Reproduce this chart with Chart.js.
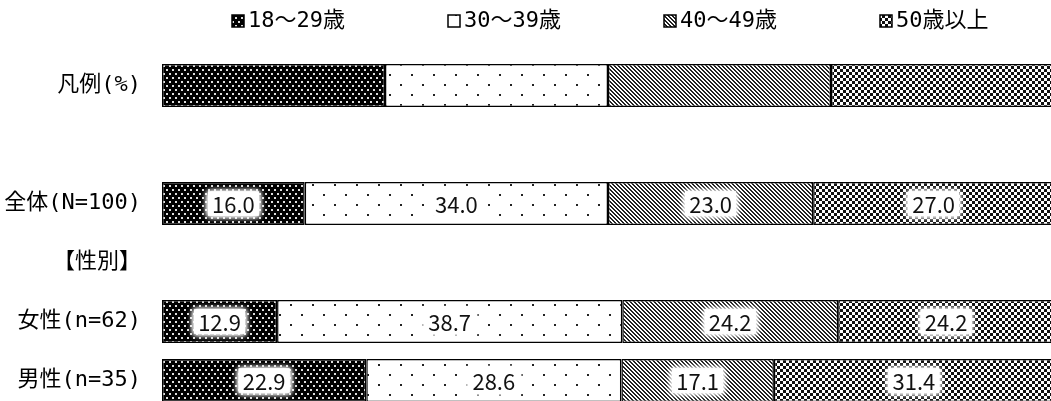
<!DOCTYPE html>
<html>
<head>
<meta charset="utf-8">
<script src="https://cdn.jsdelivr.net/npm/chart.js@4"></script>
<style>
  html, body { margin: 0; padding: 0; background: #fff; overflow: hidden; }
  canvas { display: block; }
</style>
</head>
<body>
<canvas id="age-chart" width="1056" height="412"></canvas>
<script>
const categories = ['凡例(%)', '', '全体(N=100)', '【性別】', '女性(n=62)', '男性(n=35)'];
const seriesLabels = ['18～29歳', '30～39歳', '40～49歳', '50歳以上'];
const age18to29 = [25, null, 16.0, null, 12.9, 22.9];
const age30to39 = [25, null, 34.0, null, 38.7, 28.6];
const age40to49 = [25, null, 23.0, null, 24.2, 17.1];
const age50plus = [25, null, 27.0, null, 24.2, 31.4];
const legendRow = 0;

const LABEL_FONT = "'DejaVu Sans Mono', 'Noto Sans CJK JP', monospace";
const VALUE_FONT = "'Noto Sans CJK JP', 'Noto Sans', sans-serif";

function makePattern(w, h, draw) {
    const c = document.createElement('canvas');
    c.width = w;
    c.height = h;
    const g = c.getContext('2d');
    draw(g);
    return g.createPattern(c, 'repeat');
}

// dark with light dots
const patDarkDots = makePattern(6, 8, g => {
    g.fillStyle = '#000';
    g.fillRect(0, 0, 6, 8);
    g.fillStyle = '#ddd';
    g.fillRect(1, 1, 2, 2);
    g.fillRect(4, 5, 2, 2);
});
// white with sparse dots
const patSparseDots = makePattern(22, 20, g => {
    g.fillStyle = '#fff';
    g.fillRect(0, 0, 22, 20);
    g.fillStyle = '#222';
    g.fillRect(4, 4, 2, 2);
    g.fillRect(15, 14, 2, 2);
});
// diagonal lines
const patDiagonal = makePattern(4, 4, g => {
    g.fillStyle = '#fff';
    g.fillRect(0, 0, 4, 4);
    g.fillStyle = '#222';
    for (let i = 0; i < 4; i++) {
        g.fillRect(i, i, 1, 1);
        g.fillRect((i + 1) % 4, i, 1, 1);
    }
});
// checker
const patChecker = makePattern(6, 6, g => {
    g.fillStyle = '#111';
    g.fillRect(0, 0, 6, 6);
    g.fillStyle = '#fff';
    g.fillRect(0, 0, 3, 3);
    g.fillRect(3, 3, 3, 3);
});

const patterns = [patDarkDots, patSparseDots, patDiagonal, patChecker];
const seriesData = [age18to29, age30to39, age40to49, age50plus];

// legend drawn over the plot area
const topLegend = {
    id: 'topLegend',
    afterDraw(chart) {
        const ctx = chart.ctx;
        const left = chart.chartArea.left;
        ctx.save();
        ctx.font = '22px ' + LABEL_FONT;
        ctx.textBaseline = 'middle';
        ctx.textAlign = 'left';
        chart.data.datasets.forEach((ds, i) => {
            const x = left + 70 + i * 216;
            const y = 21;
            ctx.fillStyle = ds.backgroundColor;
            ctx.fillRect(x, y - 6, 12, 12);
            ctx.lineWidth = 1.5;
            ctx.strokeStyle = '#000';
            ctx.strokeRect(x, y - 6, 12, 12);
            ctx.fillStyle = '#000';
            ctx.fillText(ds.label, x + 16, y);
        });
        ctx.restore();
    }
};

// value labels with a soft white box
const valueLabels = {
    id: 'valueLabels',
    afterDatasetsDraw(chart) {
        const ctx = chart.ctx;
        ctx.save();
        ctx.font = '22px ' + VALUE_FONT;
        ctx.textAlign = 'center';
        ctx.textBaseline = 'middle';
        chart.data.datasets.forEach((ds, di) => {
            const meta = chart.getDatasetMeta(di);
            meta.data.forEach((bar, idx) => {
                const v = ds.data[idx];
                if (v === null || idx === legendRow) return;
                const text = v.toFixed(1);
                const cx = (bar.x + bar.base) / 2;
                const cy = bar.y;
                const w = ctx.measureText(text).width;
                ctx.shadowColor = '#fff';
                ctx.shadowBlur = 6;
                ctx.fillStyle = '#fff';
                for (let k = 0; k < 3; k++) {
                    ctx.fillRect(cx - w / 2 - 4, cy - 12, w + 8, 24);
                }
                ctx.shadowBlur = 0;
                ctx.fillStyle = '#111';
                ctx.fillText(text, cx, cy + 1);
            });
        });
        ctx.restore();
    }
};

new Chart('age-chart', {
    type: 'bar',
    data: {
        labels: categories,
        datasets: seriesLabels.map((label, i) => ({
            label: label,
            data: seriesData[i],
            backgroundColor: patterns[i],
            borderColor: '#000',
            borderWidth: 1.5,
            borderSkipped: false,
            barPercentage: 0.73,
            categoryPercentage: 1.0
        }))
    },
    options: {
        indexAxis: 'y',
        responsive: false,
        animation: false,
        layout: { padding: { top: 56, right: 2, bottom: 2, left: 0 } },
        plugins: {
            legend: { display: false },
            tooltip: { enabled: false }
        },
        scales: {
            x: {
                stacked: true,
                min: 0,
                max: 100,
                display: false
            },
            y: {
                stacked: true,
                grid: { display: false, drawTicks: false },
                border: { display: false },
                ticks: {
                    color: '#000',
                    font: { family: LABEL_FONT, size: 22 },
                    padding: 21
                },
                afterFit(scale) {
                    scale.width = 162;
                    scale.paddingTop = 0;
                    scale.paddingBottom = 0;
                }
            }
        }
    },
    plugins: [topLegend, valueLabels]
});
</script>
</body>
</html>
